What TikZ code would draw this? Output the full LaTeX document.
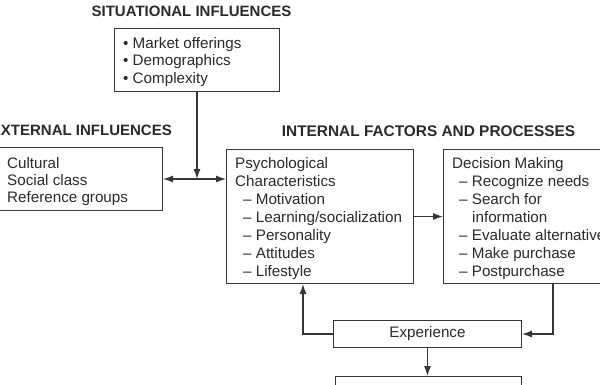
\documentclass[tikz,border=0pt]{standalone}
\usepackage{fontspec}
\setmainfont{Liberation Sans}
\usetikzlibrary{arrows.meta}
\definecolor{txtc}{HTML}{2A2A2A}
\definecolor{linec}{HTML}{363636}
\tikzset{
  box/.style={draw=linec, line width=1pt, inner sep=0pt, anchor=north west},
  body/.style={font=\fontsize{15.2}{18}\selectfont, text=txtc, align=left, inner sep=0pt, anchor=north west},
  ttl/.style={font=\bfseries\fontsize{15}{17}\selectfont, text=txtc, inner sep=0pt},
  arr/.style={draw=linec, line width=1.2pt, -{Latex[length=10pt,width=7pt]}},
  dbl/.style={draw=linec, line width=1.2pt, {Latex[length=10pt,width=7pt]}-{Latex[length=10pt,width=7pt]}},
}
\begin{document}
\begin{tikzpicture}[x=1pt,y=-1pt]
\useasboundingbox (0,0) rectangle (600,384);
\fill[white] (0,0) rectangle (600,384);
\clip (0,0) rectangle (600,384);

% titles
\node[ttl, anchor=base] (tsit) at (191.5,16) {SITUATIONAL INFLUENCES};
\node[ttl, anchor=base east] (text) at (172,135) {EXTERNAL INFLUENCES};
\node[ttl, anchor=base, font=\bfseries\fontsize{15.4}{17}\selectfont] (tint) at (428.5,136) {INTERNAL FACTORS AND PROCESSES};

% boxes
\node[box, minimum width=165pt, minimum height=63pt] (sit) at (114,28) {};
\node[box, minimum width=167pt, minimum height=63pt] (ext) at (-5,147) {};
\node[box, minimum width=187pt, minimum height=134pt] (psy) at (226,149) {};
\node[box, minimum width=200pt, minimum height=134pt] (dec) at (443,149) {};
\node[box, minimum width=188pt, minimum height=27pt] (exp) at (333,320) {};
\node[box, minimum width=186pt, minimum height=30pt] (nxt) at (335,376) {};

% texts
\node[body, font=\fontsize{15.2}{17.5}\selectfont] (sitT) at (123,37.1)
  {• Market offerings\\• Demographics\\• Complexity};
\node[body, font=\fontsize{15.2}{17}\selectfont] (extT) at (7,157.1)
  {Cultural\\Social class\\Reference groups};
\node[body] (psyT) at (235,157.2)
  {Psychological\\Characteristics\\
   \hspace*{8pt}– Motivation\\
   \hspace*{8pt}– Learning/socialization\\
   \hspace*{8pt}– Personality\\
   \hspace*{8pt}– Attitudes\\
   \hspace*{8pt}– Lifestyle};
\node[body] (decT) at (452,157.2)
  {Decision Making\\
   \hspace*{7pt}– Recognize needs\\
   \hspace*{7pt}– Search for\\
   \hspace*{20pt}information\\
   \hspace*{7pt}– Evaluate alternatives\\
   \hspace*{7pt}– Make purchase\\
   \hspace*{7pt}– Postpurchase};
\node[body, anchor=center] (expT) at (exp.center) {Experience};

% connectors
\draw[arr] (sit.south) -- (sit.south |- ext.east);
\draw[dbl] (ext.east) -- (ext.east -| psy.west);
\draw[arr] (psy.east) -- (psy.east -| dec.west);
\draw[arr] (exp.west) -| ([xshift=77pt]psy.south west);
\draw[arr] ([xshift=110pt]dec.south west) |- (exp.east);
\draw[arr] (exp.south) -- (exp.south |- nxt.north);
\end{tikzpicture}
\end{document}
